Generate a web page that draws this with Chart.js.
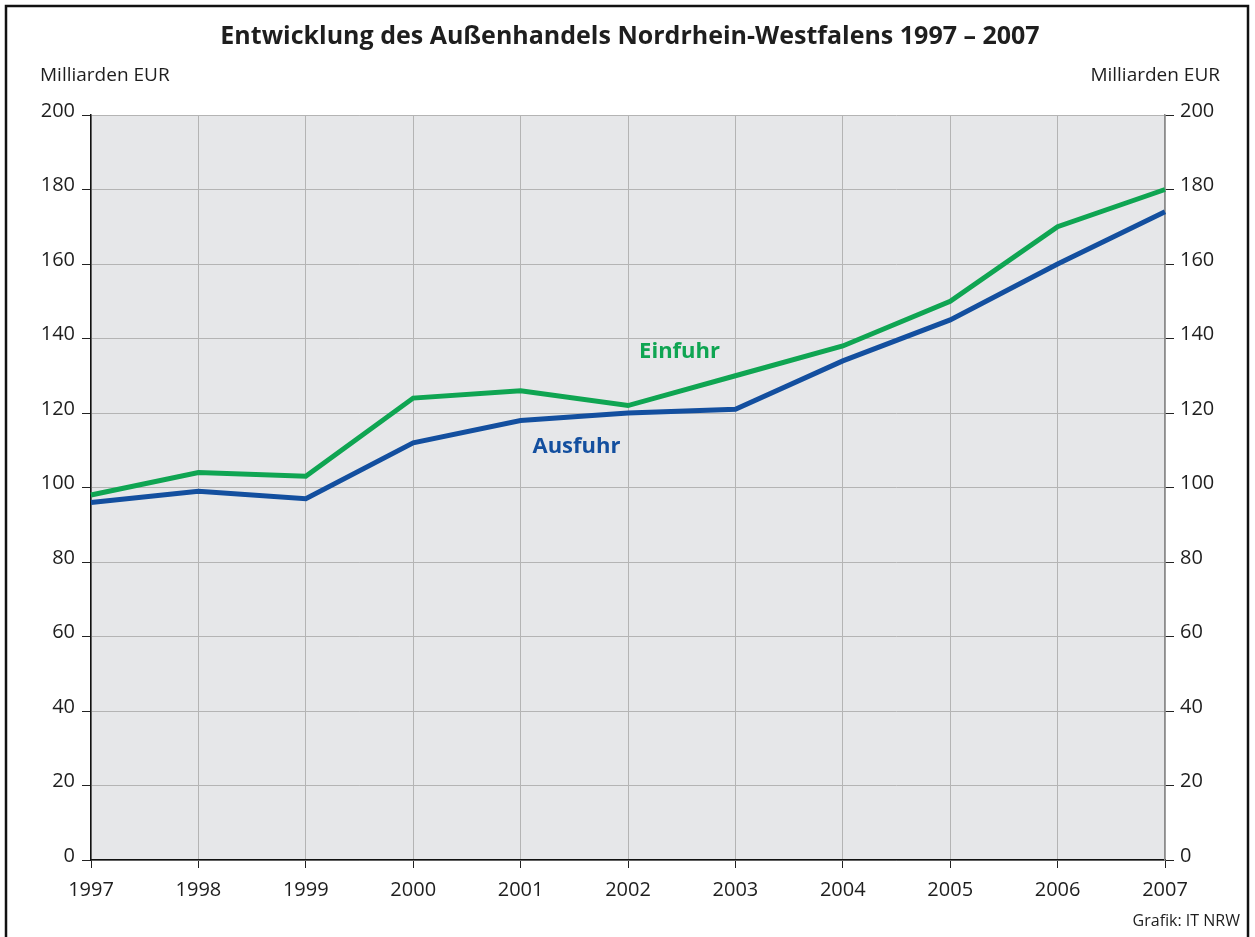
<!DOCTYPE html>
<html>
<head>
<meta charset="utf-8">
<script src="https://cdn.jsdelivr.net/npm/chart.js@4.4.0/dist/chart.umd.min.js"></script>
<style>
  html, body { margin: 0; padding: 0; background: #fff; }
  #wrap { width: 1255px; height: 937px; }
</style>
</head>
<body>
<div id="wrap"><canvas id="chart" width="1255" height="937"></canvas></div>
<script>
const years = ['1997', '1998', '1999', '2000', '2001', '2002', '2003', '2004', '2005', '2006', '2007'];
const einfuhr = [98, 104, 103, 124, 126, 122, 130, 138, 150, 170, 180];
const ausfuhr = [96, 99, 97, 112, 118, 120, 121, 134, 145, 160, 174];
const yTicks = [0, 20, 40, 60, 80, 100, 120, 140, 160, 180, 200];

const FONT = '"Open Sans", "Noto Sans", sans-serif';
const TEXT = '#1e1e1e';

// background, plot fill, frame and all free text
const decor = {
    id: 'decor',
    beforeDraw(chart){
        const {ctx, chartArea: a} = chart;
        ctx.save();
        ctx.fillStyle = '#fff';
        ctx.fillRect(0, 0, chart.width, chart.height);
        ctx.fillStyle = '#e6e7e9';
        ctx.fillRect(a.left, a.top, a.right - a.left, a.bottom - a.top);
        ctx.restore();
    },
    afterDraw(chart){
        const {ctx, scales} = chart;
        ctx.save();
        ctx.strokeStyle = '#111';
        ctx.lineWidth = 2.5;
        ctx.strokeRect(6, 6, 1242, 945);

        ctx.fillStyle = TEXT;
        ctx.textBaseline = 'middle';
        ctx.font = 'bold 25px ' + FONT;
        ctx.textAlign = 'center';
        ctx.fillText('Entwicklung des Außenhandels Nordrhein-Westfalens 1997 – 2007', 630, 37);

        ctx.font = '19px ' + FONT;
        ctx.textAlign = 'left';
        ctx.fillText('Milliarden EUR', 40, 76);
        ctx.textAlign = 'right';
        ctx.fillText('Milliarden EUR', 1220, 76);
        ctx.font = '16px ' + FONT;
        ctx.fillText('Grafik: IT NRW', 1240, 921);

        // series labels placed in data space
        ctx.font = 'bold 22px ' + FONT;
        ctx.textAlign = 'center';
        ctx.fillStyle = '#0fa552';
        ctx.fillText('Einfuhr', scales.x.getPixelForValue(5.48), scales.y.getPixelForValue(136.5));
        ctx.fillStyle = '#134f9f';
        ctx.fillText('Ausfuhr', scales.x.getPixelForValue(4.52), scales.y.getPixelForValue(111));
        ctx.restore();
    }
};

new Chart(document.getElementById('chart'), {
    type: 'line',
    data: {
        labels: years,
        datasets: [
            { label: 'Ausfuhr', data: ausfuhr, borderColor: '#134f9f', borderWidth: 5, pointRadius: 0, tension: 0, yAxisID: 'y' },
            { label: 'Einfuhr', data: einfuhr, borderColor: '#0fa552', borderWidth: 5, pointRadius: 0, tension: 0, yAxisID: 'y' }
        ]
    },
    options: {
        responsive: false,
        animation: false,
        layout: { padding: { top: 115, left: 0, right: 0, bottom: 0 } },
        plugins: { legend: { display: false }, tooltip: { enabled: false } },
        scales: {
            x: {
                offset: false,
                afterFit(s){ s.height = 77; },
                grid: { color: '#b4b4b4', tickColor: '#222', tickLength: 8, lineWidth: 1 },
                border: { color: '#111', width: 1.5 },
                ticks: { color: TEXT, font: { family: FONT, size: 20 }, padding: 10, maxRotation: 0, autoSkip: false }
            },
            y: {
                position: 'left',
                min: 0, max: 200,
                afterFit(s){ s.width = 91; },
                afterBuildTicks(s){ s.ticks = yTicks.map(v => ({ value: v })); },
                grid: { color: '#b4b4b4', tickColor: '#222', tickLength: 9, lineWidth: 1 },
                border: { color: '#111', width: 1.5 },
                ticks: { color: TEXT, font: { family: FONT, size: 20 }, padding: 7, labelOffset: -4 }
            },
            y2: {
                position: 'right',
                min: 0, max: 200,
                afterFit(s){ s.width = 90; },
                afterBuildTicks(s){ s.ticks = yTicks.map(v => ({ value: v })); },
                grid: { drawOnChartArea: false, tickColor: '#222', tickLength: 9 },
                border: { color: '#8c8c8c', width: 1.5 },
                ticks: { color: TEXT, font: { family: FONT, size: 20 }, padding: 6, labelOffset: -4 }
            }
        }
    },
    plugins: [decor]
});
</script>
</body>
</html>
